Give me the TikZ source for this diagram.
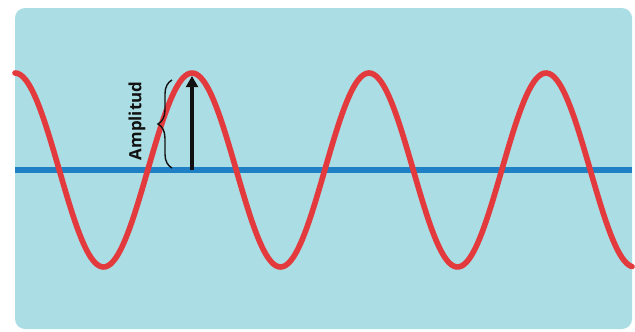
\documentclass[tikz,border=0pt]{standalone}
\usepackage{fontspec}
\setmainfont{Open Sans}
\usepackage{xcolor}
\usepackage{tikz}
\usetikzlibrary{decorations.pathreplacing,arrows.meta}
\definecolor{bg}{HTML}{ABDDE4}
\definecolor{wavered}{HTML}{E33A3E}
\definecolor{axisblue}{HTML}{1F80C6}
\definecolor{fg}{HTML}{111111}

\begin{document}
\begin{tikzpicture}[x=0.5mm,y=-0.5mm]
  \useasboundingbox (0,0) rectangle (635,331);
  \fill[bg,rounded corners=5mm] (15,8) rectangle (632,329);

  % axis and wave
  \coordinate (axisL) at (15,170);
  \coordinate (axisR) at (632,170);
  \draw[axisblue,line width=8.5pt] (axisL) -- (axisR);
  \draw[wavered,line width=8pt,line cap=round]
    plot[domain=15:632,samples=240,smooth] (\x,{170-97*cos(2.0339*(\x-15))});

  % amplitude marker
  \coordinate (base) at (192,170);
  \coordinate (crest) at (192,76);
  \draw[fg,line width=5.5pt,-{Triangle[length=16pt,width=17pt]}] (base) -- (crest);
  \coordinate (braceB) at (172,168);
  \coordinate (braceT) at (172,80);
  \draw[fg,line width=2pt,decorate,decoration={brace,amplitude=20pt}] (braceB) -- (braceT);
  \node[fg,rotate=90,font=\fontsize{24}{28}\selectfont\bfseries] (amp) at (137,121) {Amplitud};
\end{tikzpicture}
\end{document}
